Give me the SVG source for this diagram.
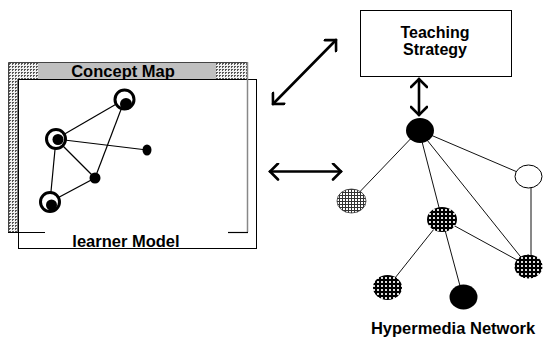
<svg xmlns="http://www.w3.org/2000/svg" width="543" height="339" viewBox="0 0 543 339">
  <style>
    .lbl { font-family: "Liberation Sans", Arial, sans-serif; font-weight: bold; fill: #000; }
    .edge { stroke: #000; stroke-width: 1.2; fill: none; }
    .hedge { stroke: #111; stroke-width: 1; fill: none; }
    .arrow { stroke: #000; stroke-width: 2.6; fill: none; stroke-linecap: round; stroke-linejoin: miter; }
    .ring { fill: #fff; stroke: #000; stroke-width: 3; }
    .dot { fill: #000; }
  </style>
  <defs>
    <!-- dithered fill for the window border strips -->
    <pattern id="dither" width="3" height="3" patternUnits="userSpaceOnUse">
      <rect width="3" height="3" fill="#f0f0f0"/>
      <rect width="2" height="1" fill="#555"/>
      <rect width="1" height="2" fill="#555"/>
    </pattern>
    <!-- grid-like dither for hypermedia nodes -->
    <pattern id="meshLight" width="3" height="3" patternUnits="userSpaceOnUse">
      <rect width="3" height="3" fill="#fff"/>
      <rect width="3" height="1" fill="#333"/>
      <rect width="1" height="3" fill="#333"/>
    </pattern>
    <pattern id="meshDark" width="4" height="4" patternUnits="userSpaceOnUse">
      <rect width="4" height="4" fill="#000"/>
      <rect x="1" y="1" width="2" height="2" fill="#ddd"/>
    </pattern>
    <marker id="chev" viewBox="-10 -9 12 18" markerWidth="12" markerHeight="18" refX="0" refY="0" orient="auto-start-reverse" markerUnits="userSpaceOnUse">
      <path d="M-8,-8 L0,0 L-8,8" fill="none" stroke="#000" stroke-width="2.6" stroke-linecap="round"/>
    </marker>
  </defs>

  <!-- learner model frame -->
  <g id="learner-model">
    <rect x="18.5" y="79.5" width="238" height="169" fill="#fff" stroke="#000" stroke-width="1"/>
    <text class="lbl" x="126" y="247" font-size="16.5" text-anchor="middle">learner Model</text>
  </g>

  <!-- concept map window -->
  <g id="concept-map">
    <rect x="8" y="62" width="239" height="17" fill="#c0c0c0"/>
    <rect x="8" y="62" width="30" height="17" fill="url(#dither)"/>
    <rect x="216" y="62" width="31" height="17" fill="url(#dither)"/>
    <rect x="8" y="79" width="10" height="153" fill="url(#dither)"/>
    <path d="M8.5,232 V62.5 H247" fill="none" stroke="#444" stroke-width="1"/>
    <line x1="18" y1="79.5" x2="257" y2="79.5" stroke="#000" stroke-width="1"/>
    <line x1="18" y1="79" x2="18" y2="232" stroke="#000" stroke-width="1"/>
    <line x1="247.5" y1="62" x2="247.5" y2="232" stroke="#888" stroke-width="1.5"/>
    <line x1="8" y1="232.5" x2="45" y2="232.5" stroke="#000" stroke-width="1.2"/>
    <line x1="228" y1="232.5" x2="248" y2="232.5" stroke="#000" stroke-width="1.2"/>
    <text class="lbl" x="123" y="77" font-size="16.5" text-anchor="middle">Concept Map</text>
  </g>

  <!-- concept map links -->
  <g id="concept-links">
    <line class="edge" x1="56" y1="139" x2="125" y2="99"/>
    <line class="edge" x1="125" y1="99" x2="95" y2="178"/>
    <line class="edge" x1="56" y1="139" x2="147" y2="150"/>
    <line class="edge" x1="56" y1="139" x2="95" y2="178"/>
    <line class="edge" x1="56" y1="139" x2="50" y2="202"/>
    <line class="edge" x1="50" y1="202" x2="95" y2="178"/>
  </g>

  <!-- concept map nodes -->
  <g id="concept-top">
    <circle class="ring" cx="124.5" cy="99.5" r="9.5"/>
    <circle class="dot" cx="126" cy="104" r="6"/>
  </g>
  <g id="concept-left">
    <circle class="ring" cx="56" cy="139" r="9.5"/>
    <circle class="dot" cx="58" cy="139.5" r="5.5"/>
  </g>
  <g id="concept-bottom">
    <circle class="ring" cx="50" cy="202" r="9.5"/>
    <circle class="dot" cx="51.5" cy="205" r="5.5"/>
  </g>
  <g id="concept-right">
    <ellipse class="dot" cx="147" cy="150" rx="4.5" ry="5.5"/>
  </g>
  <g id="concept-mid">
    <circle class="dot" cx="95" cy="178" r="5.5"/>
  </g>

  <!-- teaching strategy -->
  <g id="teaching-strategy">
    <rect x="360.5" y="10.5" width="151" height="66" fill="#fff" stroke="#000" stroke-width="1"/>
    <text class="lbl" x="435" y="38" font-size="16" text-anchor="middle">Teaching</text>
    <text class="lbl" x="435" y="55" font-size="16" text-anchor="middle">Strategy</text>
  </g>

  <!-- connectors -->
  <g id="connectors">
    <line class="arrow" x1="273" y1="104" x2="336" y2="40" marker-start="url(#chev)" marker-end="url(#chev)"/>
    <line class="arrow" x1="270" y1="171.5" x2="341" y2="171.5" marker-start="url(#chev)" marker-end="url(#chev)"/>
    <line class="arrow" x1="419" y1="79" x2="419" y2="115" marker-start="url(#chev)" marker-end="url(#chev)"/>

    <line class="hedge" x1="419" y1="130" x2="351" y2="201"/>
    <line class="hedge" x1="419" y1="130" x2="442" y2="219"/>
    <line class="hedge" x1="419" y1="130" x2="529" y2="177"/>
    <line class="hedge" x1="419" y1="130" x2="528" y2="266"/>
    <line class="hedge" x1="442" y1="219" x2="387" y2="288"/>
    <line class="hedge" x1="442" y1="219" x2="463" y2="297"/>
    <line class="hedge" x1="442" y1="219" x2="528" y2="266"/>
    <line class="hedge" x1="531" y1="177" x2="531" y2="266" stroke-width="1.6"/>
  </g>

  <!-- hypermedia network nodes -->
  <g id="hm-top"><ellipse cx="420" cy="130.5" rx="14" ry="12.5" fill="#000"/></g>
  <g id="hm-left"><ellipse cx="351.5" cy="201" rx="14.5" ry="12" fill="url(#meshLight)" stroke="#333" stroke-width="0.8"/></g>
  <g id="hm-white"><ellipse cx="528.5" cy="176.5" rx="13.5" ry="11.5" fill="#fff" stroke="#000" stroke-width="1"/></g>
  <g id="hm-mid"><ellipse cx="442" cy="219.5" rx="15" ry="12.5" fill="url(#meshDark)"/></g>
  <g id="hm-right"><ellipse cx="528.5" cy="266.5" rx="14" ry="12" fill="url(#meshDark)"/></g>
  <g id="hm-bottom-left"><ellipse cx="387.5" cy="287.5" rx="14.5" ry="12.5" fill="url(#meshDark)"/></g>
  <g id="hm-bottom"><ellipse cx="463.5" cy="297" rx="14" ry="12.5" fill="#000"/></g>

  <g id="hypermedia-label">
    <text class="lbl" x="453" y="334" font-size="16.5" text-anchor="middle">Hypermedia Network</text>
  </g>
</svg>
